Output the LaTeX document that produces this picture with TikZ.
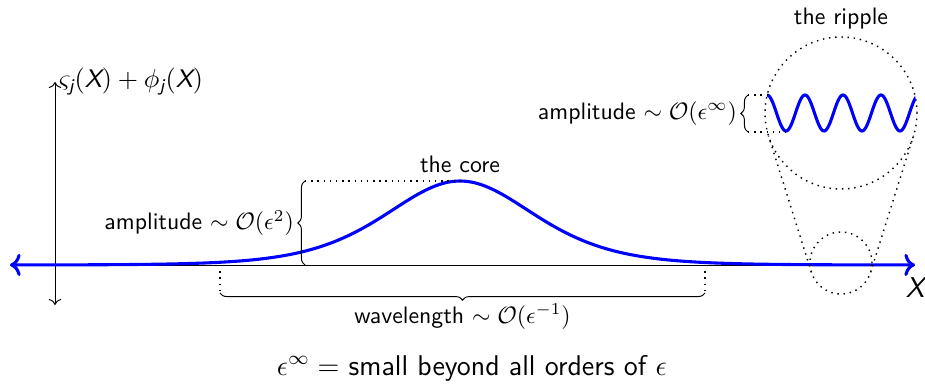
\documentclass[tikz,border=0pt]{standalone}
\usepackage{amsmath}
\usepackage{amssymb}
\usepackage{tikz}
\usetikzlibrary{
	arrows.meta,
	calc,
	decorations.pathreplacing,
	positioning
}
\newcommand{\sv}[1]{\text{\sffamily\slshape #1}}
\tikzset{
	wave/.style={blue, line width=1.3pt},
	guide/.style={dotted, semithick},
	curly/.style={decorate, decoration={brace, amplitude=3pt}},
	lbl/.style={inner sep=1.5pt}
}

\begin{document}
\sffamily
\begin{tikzpicture}[x=0.42pt, y=0.42pt]
		\useasboundingbox (0,0) rectangle (925,388);
		
		% Achsen
		\coordinate (yb) at (55,83);
		\coordinate (yt) at (55,306);
		\coordinate (xl) at (10,123);
		\coordinate (xr) at (915,123);
		\draw[<->] (yb) -- (yt) node[right, lbl, font=\fontsize{10.7}{13}\selectfont] (ylab) {$\varsigma_{\sv{j}}(\sv{X}) + \phi_{\sv{j}}(\sv{X})$};
		\draw (xl) -- (xr);
		\node[font=\large] (xlab) at (915,100) {$\sv{X}$};
		
		% Kern: sech^2-Profil
		\draw[wave, <->, domain=10:915, samples=160, smooth, variable=\x]
			plot ({\x}, {123 + 84/(cosh((\x-460)/100))^2});
		\node[above] (core) at (460,207) {the core};
		
		% Amplitude des Kerns
		\coordinate (ab) at (305,123);
		\coordinate (at) at (305,207);
		\coordinate (peak) at (460,207);
		\draw[guide] (at) -- (peak);
		\draw[curly] (ab) -- (at) node[midway, left=3pt, lbl] (amp) {amplitude $\sim \mathcal{O}(\epsilon^2)$};
		
		% Wellenlaenge
		\coordinate (wl) at (220,123);
		\coordinate (wr) at (705,123);
		\coordinate (wlb) at (220,95);
		\coordinate (wrb) at (705,95);
		\draw[guide] (wl) -- (wlb);
		\draw[guide] (wr) -- (wrb);
		\draw[curly] (wrb) -- (wlb) node[midway, below=3pt, lbl] (wlen) {wavelength $\sim \mathcal{O}(\epsilon^{-1})$};
		
		% Lupe
		\coordinate (small) at (841,125);
		\coordinate (big) at (841,275);
		\draw[guide] (small) circle (31);
		\draw[guide] (big) circle (76);
		\draw[guide] ($(small)+(197.46:31)$) -- ($(big)+(197.46:76)$);
		\draw[guide] ($(small)+(-17.46:31)$) -- ($(big)+(-17.46:76)$);
		\node (ripple) at (841,369) {the ripple};
		
		% Rippel im Kreis
		\begin{scope}
			\clip (big) circle (76);
			\draw[wave, domain=760:920, samples=200, smooth, variable=\x]
				plot ({\x}, {275 + 18*cos(9.4737*(\x-767))});
		\end{scope}
		
		% Amplitude der Rippel
		\coordinate (rb) at (748,256);
		\coordinate (rt) at (748,293);
		\draw[guide] (rt) -- (767,293);
		\draw[guide] (rb) -- (786,256);
		\draw[curly] (rb) -- (rt) node[midway, left=3pt, lbl] (ramp) {amplitude $\sim \mathcal{O}(\epsilon^\infty)$};
		
		% Fussnote
		\node[font=\large] (note) at (472,20) {$\epsilon^\infty = $ small beyond all orders of $\epsilon$};
	\end{tikzpicture}
\end{document}
